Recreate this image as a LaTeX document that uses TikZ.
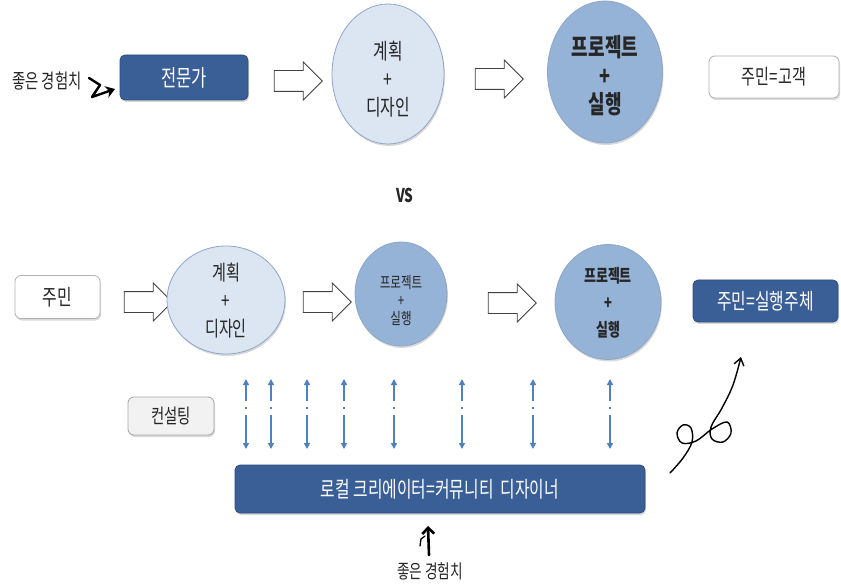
\documentclass[tikz,border=0pt]{standalone}
\usepackage{fontspec}
\setmainfont{Noto Sans CJK KR}[FakeStretch=0.72]
\usetikzlibrary{shapes.geometric,shapes.arrows,arrows.meta,shadows}
\definecolor{dkblue}{HTML}{3A5F97}
\definecolor{dkborder}{HTML}{2F4D7E}
\definecolor{lightell}{HTML}{DCE6F2}
\definecolor{midell}{HTML}{95B3D7}
\definecolor{ellborder}{HTML}{8EA6C6}
\definecolor{arrblue}{HTML}{4F81BD}
\definecolor{txt}{HTML}{262626}
\begin{document}
\begin{tikzpicture}[x=1pt,y=-1pt,
  shad/.style={drop shadow={shadow xshift=1pt,shadow yshift=-2pt,opacity=0.3}},
  darkbox/.style={draw=dkborder, fill=dkblue, rounded corners=5pt, text=white, line width=0.8pt, shad, inner sep=0pt},
  whitebox/.style={draw=gray!60, fill=white, rounded corners=6pt, line width=0.8pt, text=txt, shad, inner sep=0pt},
  graybox/.style={draw=gray!70, fill=gray!10, rounded corners=6pt, line width=0.8pt, text=txt, shad, inner sep=0pt},
  lightel/.style={ellipse, draw=ellborder, fill=lightell, line width=0.8pt, inner sep=0pt, shad},
  midel/.style={ellipse, draw=ellborder, fill=midell, line width=0.8pt, inner sep=0pt, shad},
  eltext/.style={text=txt, align=center, inner sep=0pt},
  blockarrow/.style={single arrow, draw=black!75, fill=white, line width=0.8pt, minimum height=48pt, minimum width=37pt, single arrow head extend=8.5pt, inner sep=0pt},
  dasharrow/.style={draw=arrblue, line width=1.5pt, {Triangle[length=6pt,width=6pt]}-{Triangle[length=6pt,width=6pt]}, dash pattern=on 16pt off 6pt on 2pt off 6pt on 40pt},
  handline/.style={draw=black, line width=1.6pt, line cap=round, line join=round},
  plain/.style={text=txt, inner sep=0pt}
]
\useasboundingbox (0,0) rectangle (841,588);

% ---------- top row ----------
\node[plain, font=\fontsize{20}{22}\selectfont] (exp1) at (47,81) {좋은 경험치};
\coordinate (h1s) at (89,78);
\coordinate (h1e) at (115,89);
\draw[handline, line width=2.4pt, -{Stealth[length=9pt,width=12pt]}] (h1s) -- (100,85) -- (92,97) -- (h1e);

\node[darkbox, minimum width=128pt, minimum height=45pt, font=\fontsize{23}{25}\selectfont] (pro) at (184,77.5) {전문가};
\node[blockarrow] (a1) at (293,81) {\rule{0pt}{20pt}};
\node[lightel, minimum width=112pt, minimum height=140pt] (pd1) at (388,74) {};
\node[eltext, font=\fontsize{22}{28}\selectfont] (pd1t) at ([yshift=-5pt]pd1.center) {계획\\+\\디자인};
\node[blockarrow] (a2) at (494,79) {\rule{0pt}{20pt}};
\node[midel, minimum width=115pt, minimum height=142pt] (pe1) at (605,72) {};
\node[eltext, font=\fontsize{25}{28.5}\selectfont\bfseries] (pe1t) at ([yshift=-4pt]pe1.center) {프로젝트\\+\\실행};
\node[whitebox, minimum width=130pt, minimum height=42pt, font=\fontsize{21}{23}\selectfont] (c1) at (774,77) {주민=고객};

\node[plain, font=\fontsize{19}{21}\selectfont\bfseries] (vs) at (405,195) {VS};

% ---------- bottom row ----------
\node[whitebox, minimum width=85pt, minimum height=43pt, font=\fontsize{22}{24}\selectfont] (res) at (57.5,297) {주민};
\node[blockarrow] (a3) at (143,302) {\rule{0pt}{20pt}};
\node[lightel, minimum width=118pt, minimum height=108pt] (pd2) at (226,300) {};
\node[eltext, font=\fontsize{21}{28}\selectfont] (pd2t) at ([yshift=-1pt]pd2.center) {계획\\+\\디자인};
\node[blockarrow] (a4) at (322,302) {\rule{0pt}{20pt}};
\node[midel, minimum width=92pt, minimum height=104pt] (pe2) at (401,294) {};
\node[eltext, font=\fontsize{16}{18}\selectfont] (pe2t) at ([yshift=-6pt]pe2.center) {프로젝트\\+\\실행};
\node[blockarrow] (a5) at (507,303) {\rule{0pt}{20pt}};
\node[midel, minimum width=106pt, minimum height=115pt] (pe3) at (608,302) {};
\node[eltext, font=\fontsize{18}{27}\selectfont\bfseries] (pe3t) at ([yshift=-1pt]pe3.center) {프로젝트\\+\\실행};
\node[darkbox, minimum width=145pt, minimum height=42pt, font=\fontsize{22}{24}\selectfont] (c2) at (765.5,301) {주민=실행주체};

\node[graybox, minimum width=86pt, minimum height=38pt, font=\fontsize{20}{22}\selectfont] (cons) at (171,416) {컨설팅};

\foreach \x [count=\i] in {246,271,307,344,394,462,533,610}{
  \coordinate (u\i) at (\x,379);
  \coordinate (d\i) at (\x,449);
  \draw[dasharrow] (u\i) -- (d\i);
}

\node[darkbox, minimum width=410pt, minimum height=48pt, font=\fontsize{22}{24}\selectfont] (lc) at (440,489) {로컬 크리에이터=커뮤니티\ \ 디자이너};

% bottom hand arrow
\coordinate (h2s) at (429,555);
\coordinate (h2e) at (428,526);
\draw[handline, line width=2.6pt, -{Straight Barb[length=6pt,width=12pt]}] (h2s) -- (h2e);
\draw[handline, line width=1.3pt] (420,546) -- (421,539) -- (425,536);
\node[plain, font=\fontsize{19}{21}\selectfont] (exp2) at (430,571) {좋은 경험치};

% curly arrow
\coordinate (cs) at (670,473);
\coordinate (ce) at (741,357);
\draw[handline, line width=1.4pt, -{Straight Barb[length=7pt,width=10pt]}]
  plot[smooth, tension=0.6] coordinates {(cs) (683,458) (692,442) (691,428) (683,425) (677,433) (682,443) (696,441) (712,429) (727,422) (731,433) (723,442) (712,439) (711,427) (722,408) (733,385) (ce)};
\end{tikzpicture}
\end{document}
